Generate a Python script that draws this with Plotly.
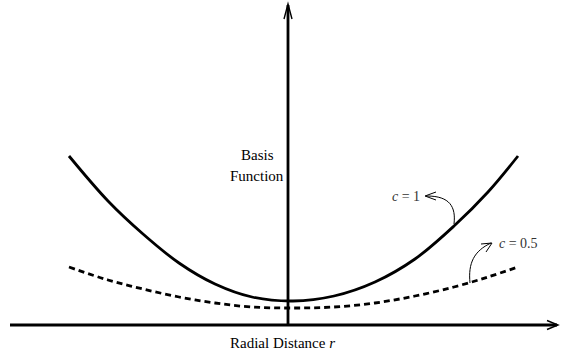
import plotly.graph_objects as go

# Radial distance samples (axis units) and the two basis-function curves
r_vals = [-2.19, -1.80, -1.45, -1.09, -0.73, -0.36, 0.05, 0.46, 0.87, 1.27, 1.66, 2.00, 2.30]
phi_c1 = [1.69, 1.24, 0.91, 0.62, 0.41, 0.28, 0.24, 0.29, 0.43, 0.66, 0.99, 1.33, 1.69]
phi_c05 = [0.58, 0.45, 0.36, 0.28, 0.22, 0.18, 0.17, 0.18, 0.22, 0.29, 0.38, 0.48, 0.58]

curve_labels = ["<i>c</i> = 1", "<i>c</i> = 0.5"]

SERIF = "Liberation Serif, Times New Roman, serif"

fig = go.Figure()

fig.add_trace(go.Scatter(
    x=r_vals, y=phi_c1, mode="lines",
    line=dict(color="black", width=2.8, shape="spline", smoothing=1.0),
    hoverinfo="skip", showlegend=False,
))
fig.add_trace(go.Scatter(
    x=r_vals, y=phi_c05, mode="lines",
    line=dict(color="black", width=2.8, dash="6px,4px", shape="spline", smoothing=1.0),
    hoverinfo="skip", showlegend=False,
))

shapes = []
axis_line = dict(color="black", width=2.8)
thin = dict(color="black", width=1)

# coordinate axes
shapes.append(dict(type="line", x0=-2.78, y0=0, x1=2.69, y1=0, line=axis_line, layer="below"))
shapes.append(dict(type="line", x0=0, y0=0, x1=0, y1=3.20, line=axis_line, layer="below"))
# open arrow heads on the axes
shapes.append(dict(type="path", path="M -0.04,3.06 L 0,3.21 L 0.04,3.06", line=dict(color="black", width=1.4)))
shapes.append(dict(type="path", path="M 2.59,0.045 L 2.70,0 L 2.59,-0.045", line=dict(color="black", width=1.4)))

# curved pointer from the c = 1 curve to its label
shapes.append(dict(type="path", path="M 1.66,1.01 C 1.68,1.18 1.62,1.29 1.39,1.29", line=thin))
shapes.append(dict(type="path", path="M 1.48,1.33 L 1.37,1.29 L 1.48,1.25", line=thin))
# curved pointer from the c = 0.5 curve to its label
shapes.append(dict(type="path", path="M 1.82,0.42 C 1.80,0.62 1.86,0.74 2.03,0.82", line=thin))
shapes.append(dict(type="path", path="M 1.93,0.81 L 2.04,0.82 L 1.98,0.73", line=thin))

annotations = [
    dict(x=-0.31, y=1.70, text="Basis", showarrow=False,
         font=dict(family=SERIF, size=15, color="black")),
    dict(x=-0.31, y=1.49, text="Function", showarrow=False,
         font=dict(family=SERIF, size=15, color="black")),
    dict(x=-0.06, y=-0.18, text="Radial Distance <i>r</i>", showarrow=False,
         font=dict(family=SERIF, size=15, color="black")),
    dict(x=1.34, y=1.29, text=curve_labels[0], showarrow=False, xanchor="right",
         font=dict(family=SERIF, size=14, color="#333")),
    dict(x=2.09, y=0.82, text=curve_labels[1], showarrow=False, xanchor="left",
         font=dict(family=SERIF, size=14, color="#333")),
]

fig.update_layout(
    width=561, height=354,
    margin=dict(l=0, r=0, t=0, b=0),
    paper_bgcolor="white", plot_bgcolor="white",
    xaxis=dict(range=[-2.88, 2.73], visible=False, fixedrange=True),
    yaxis=dict(range=[-0.29, 3.25], visible=False, fixedrange=True),
    shapes=shapes, annotations=annotations,
    showlegend=False,
)

fig.write_html("out.html")
